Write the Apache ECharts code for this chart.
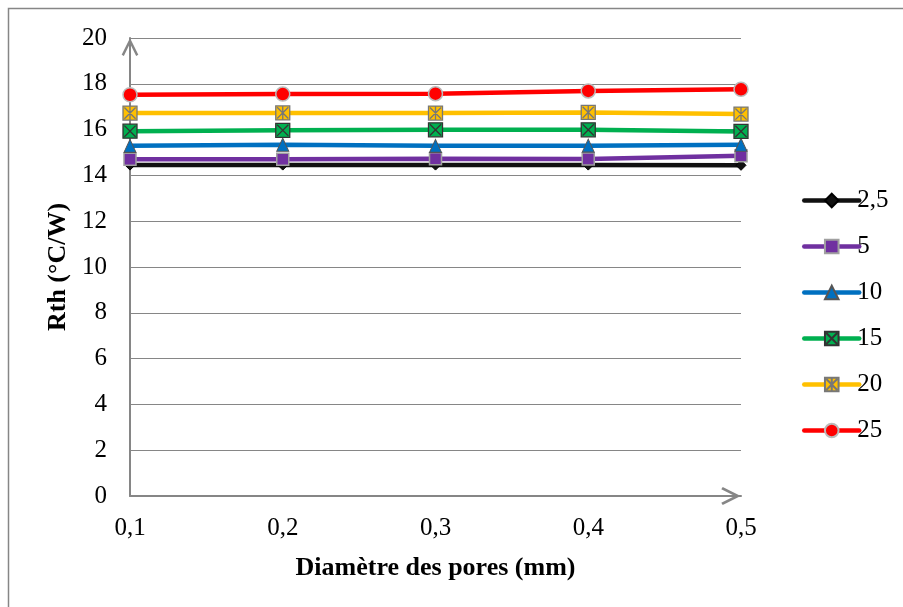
<!DOCTYPE html>
<html>
<head>
<meta charset="utf-8">
<script src="https://cdn.jsdelivr.net/npm/echarts@6/dist/echarts.min.js"></script>
<style>html,body{margin:0;padding:0;background:#fff}#c{width:903px;height:607px}</style>
</head>
<body>
<div id="c"></div>
<script>
var categories = ['0,1', '0,2', '0,3', '0,4', '0,5'];
var seriesNames = ['2,5', '5', '10', '15', '20', '25'];
var s2_5 = [14.45, 14.45, 14.45, 14.45, 14.44];
var s5 = [14.71, 14.71, 14.73, 14.72, 14.86];
var s10 = [15.29, 15.34, 15.29, 15.30, 15.34];
var s15 = [15.93, 15.97, 15.99, 15.99, 15.92];
var s20 = [16.72, 16.73, 16.72, 16.75, 16.68];
var s25 = [17.52, 17.55, 17.57, 17.69, 17.76];
var yTicks = {min: 0, max: 20, interval: 2};

var serif = 'Liberation Serif';
var gray = '#868686';
var dataSets = [s2_5, s5, s10, s15, s20, s25];
var colors = ['#111111', '#7030A0', '#0070C0', '#00B050', '#FFC000', '#FF0000'];
var symbols = [
  'diamond',
  'rect',
  'triangle',
  'path://M0,0 L10,0 L10,10 L0,10 Z M1,1 L9,9 M9,1 L1,9',
  'path://M0,0 L10,0 L10,10 L0,10 Z M1,1 L9,9 M9,1 L1,9 M5,0 L5,10',
  'circle'
];
var symbolSizes = [10, 12, [12, 13], 14, 14, 14];
var borderColors = ['#000', '#A0A0A0', '#555', '#333', '#777', '#BBBBBB'];
var borderWidths = [1, 1.5, 1, 1.3, 1.3, 1.5];

var series = seriesNames.map(function (n, i) {
  return {
    name: n,
    type: 'line',
    data: dataSets[i],
    symbol: symbols[i],
    symbolSize: symbolSizes[i],
    showAllSymbol: true,
    lineStyle: {color: colors[i], width: 4.5},
    itemStyle: {color: colors[i], borderColor: borderColors[i], borderWidth: borderWidths[i]},
    emphasis: {disabled: true},
    animation: false
  };
});

var chevron = 'path://M0,10 L5,0 L10,10 L8.7,10.8 L5,3.3 L1.3,10.8 Z';

var chart = echarts.init(document.getElementById('c'), null, {renderer: 'canvas'});
chart.setOption({
  backgroundColor: '#fff',
  animation: false,
  graphic: [{
    type: 'rect', shape: {x: 8.5, y: 8.5, width: 1000, height: 1000},
    style: {fill: 'none', stroke: gray, lineWidth: 1.5}, silent: true, z: -10
  }],
  grid: {left: 130, right: 162, top: 38, bottom: 111, containLabel: false},
  legend: {
    orient: 'vertical',
    left: 797,
    top: 183,
    itemWidth: 55,
    itemHeight: 17,
    itemGap: 21,
    lineStyle: {width: 4.5, cap: 'round'},
    textStyle: {fontFamily: serif, fontSize: 25, color: '#000', padding: [0, 0, 0, -7]},
    data: seriesNames
  },
  xAxis: {
    type: 'category',
    data: categories,
    boundaryGap: false,
    name: 'Diamètre des pores (mm)',
    nameLocation: 'middle',
    nameGap: 59,
    nameTextStyle: {fontFamily: serif, fontSize: 26, fontWeight: 'bold', color: '#000'},
    axisLine: {lineStyle: {color: gray, width: 2}, symbol: ['none', chevron], symbolSize: [18, 20], symbolOffset: [0, -10]},
    axisTick: {show: false},
    axisLabel: {fontFamily: serif, fontSize: 25, color: '#000', margin: 20},
    splitLine: {show: false}
  },
  yAxis: {
    type: 'value',
    min: yTicks.min,
    max: yTicks.max,
    interval: yTicks.interval,
    name: 'Rth (°C/W)',
    nameLocation: 'middle',
    nameGap: 55,
    nameTextStyle: {fontFamily: serif, fontSize: 26, fontWeight: 'bold', color: '#000'},
    axisLine: {show: true, lineStyle: {color: gray, width: 2}, symbol: ['none', chevron], symbolSize: [20, 18], symbolOffset: [0, -9]},
    axisTick: {show: false},
    axisLabel: {fontFamily: serif, fontSize: 25, color: '#000', margin: 23},
    splitLine: {lineStyle: {color: gray, width: 1.2}}
  },
  series: series
});
</script>
</body>
</html>
